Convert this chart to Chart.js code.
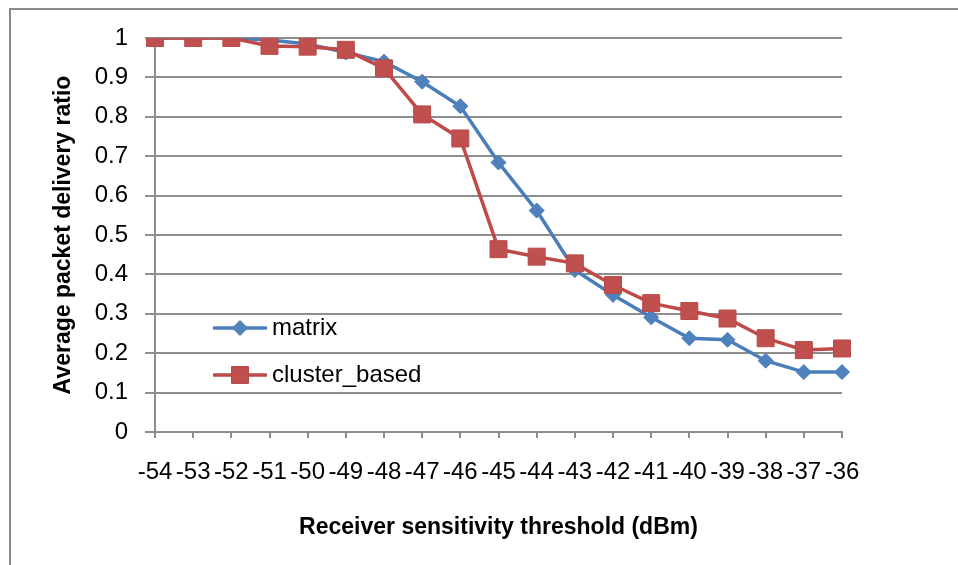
<!DOCTYPE html>
<html>
<head>
<meta charset="utf-8">
<script src="https://cdn.jsdelivr.net/npm/chart.js@4"></script>
<style>
  body { margin: 0; background: #fff; }
  canvas { display: block; }
</style>
</head>
<body>
<canvas id="pdr" width="958" height="565"></canvas>
<script>
// umbrales de sensibilidad del receptor (dBm)
const thresholds = ['-54', '-53', '-52', '-51', '-50', '-49', '-48', '-47', '-46', '-45',
  '-44', '-43', '-42', '-41', '-40', '-39', '-38', '-37', '-36'];

// ratio medio de entrega de paquetes
const matrixPdr = [1, 1, 1, 0.995, 0.985, 0.963, 0.94, 0.889, 0.827, 0.684,
  0.562, 0.411, 0.348, 0.291, 0.238, 0.234, 0.181, 0.152, 0.152];
const clusterPdr = [1, 1, 1, 0.98, 0.978, 0.97, 0.923, 0.806, 0.745, 0.464,
  0.445, 0.428, 0.373, 0.327, 0.307, 0.288, 0.238, 0.208, 0.212];

const FONT = "'Liberation Sans', Arial, sans-serif";
const GRID = '#8e8e8e';

// marco gris alrededor de todo el gráfico
const marco = {
  id: 'marco',
  beforeDraw(chart) {
    const c = chart.ctx;
    c.save();
    c.strokeStyle = '#8a8a8a';
    c.lineWidth = 2;
    c.strokeRect(10, 9, chart.width + 20, chart.height + 20);
    c.restore();
  }
};

// leyenda dentro del área de trazado, abajo a la izquierda
const leyenda = {
  id: 'leyenda',
  afterDraw(chart) {
    const c = chart.ctx;
    const area = chart.chartArea;
    const x0 = area.left + 58, largo = 54;
    const filas = [area.top + 290, area.top + 337];
    chart.data.datasets.forEach((ds, i) => {
      const y = filas[i];
      c.save();
      c.strokeStyle = ds.borderColor;
      c.lineWidth = ds.borderWidth;
      c.beginPath();
      c.moveTo(x0, y);
      c.lineTo(x0 + largo, y);
      c.stroke();
      c.fillStyle = ds.pointBackgroundColor;
      c.strokeStyle = ds.pointBorderColor;
      c.lineWidth = ds.pointBorderWidth;
      Chart.helpers.drawPoint(c, {
        pointStyle: ds.pointStyle,
        radius: ds.pointRadius,
        borderWidth: ds.pointBorderWidth,
        rotation: 0
      }, x0 + largo / 2, y);
      c.fillStyle = '#000';
      c.font = '24px ' + FONT;
      c.textBaseline = 'middle';
      c.textAlign = 'left';
      c.fillText(ds.label, x0 + largo + 5, y);
      c.restore();
    });
  }
};

new Chart(document.getElementById('pdr'), {
  type: 'line',
  data: {
    labels: thresholds,
    datasets: [{
      label: 'matrix',
      data: matrixPdr,
      borderColor: '#4A7EBB',
      borderWidth: 3.5,
      pointStyle: 'rectRot',
      pointRadius: 7.5,
      pointBackgroundColor: '#4F81BD',
      pointBorderColor: '#4A7EBB',
      pointBorderWidth: 1,
      tension: 0,
      order: 2
    }, {
      label: 'cluster_based',
      data: clusterPdr,
      borderColor: '#BE4B48',
      borderWidth: 3.5,
      pointStyle: 'rect',
      pointRadius: 12,
      pointBackgroundColor: '#C0504D',
      pointBorderColor: '#B9494A',
      pointBorderWidth: 1,
      tension: 0,
      order: 1
    }]
  },
  options: {
    responsive: false,
    animation: false,
    layout: { padding: { left: 0, top: 38, right: 116, bottom: 0 } },
    plugins: {
      legend: { display: false },
      tooltip: { enabled: false }
    },
    scales: {
      x: {
        type: 'category',
        offset: false,
        afterFit(scale) { scale.height = 133; },
        grid: { drawOnChartArea: false, drawTicks: true, tickLength: 6, color: GRID, lineWidth: 2 },
        border: { color: GRID, width: 2 },
        ticks: {
          autoSkip: false, maxRotation: 0, padding: 20,
          color: '#000', font: { family: FONT, size: 24 }
        },
        title: {
          display: true,
          text: 'Receiver sensitivity threshold (dBm)',
          color: '#000',
          font: { family: FONT, size: 23, weight: 'bold' },
          padding: { top: 0, bottom: 24 }
        }
      },
      y: {
        min: 0,
        max: 1,
        afterFit(scale) { scale.width = 155; },
        grid: { color: GRID, lineWidth: 2, tickLength: 10 },
        border: { color: GRID, width: 2 },
        ticks: {
          stepSize: 0.1, padding: 17,
          color: '#000', font: { family: FONT, size: 24 },
          callback: (v) => String(Math.round(v * 10) / 10)
        },
        title: {
          display: true,
          text: 'Average packet delivery ratio',
          color: '#000',
          font: { family: FONT, size: 23, weight: 'bold' },
          padding: { top: 50, bottom: 0 }
        }
      }
    }
  },
  plugins: [marco, leyenda]
});
</script>
</body>
</html>
